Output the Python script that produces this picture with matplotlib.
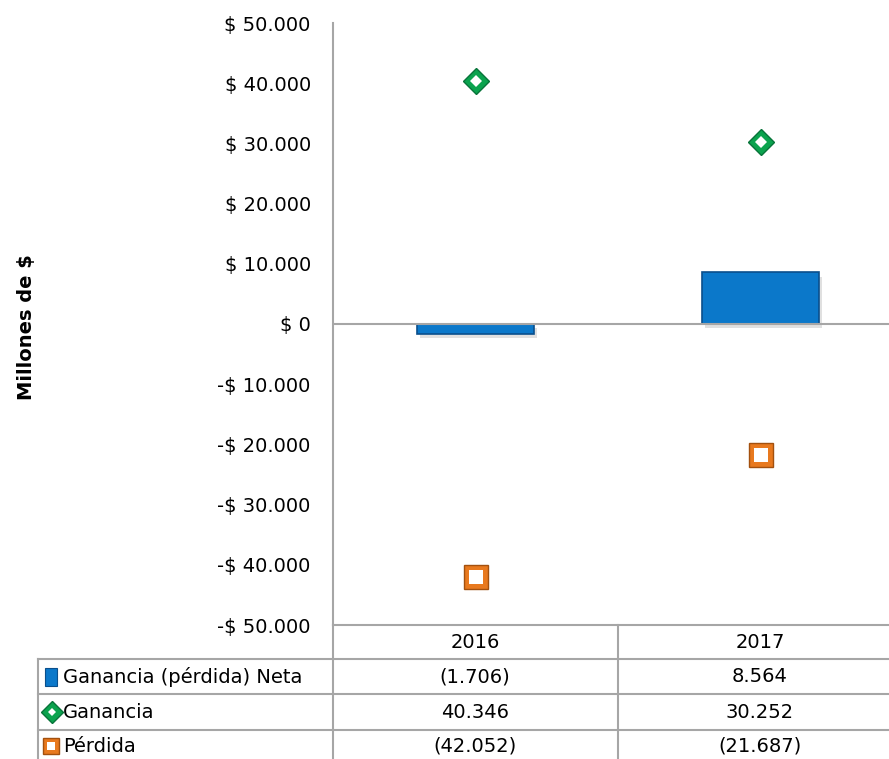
import numpy as np
import matplotlib.pyplot as plt
from matplotlib.lines import Line2D
from matplotlib.patches import Rectangle

plt.rcParams['font.family'] = ['DejaVu Sans']

# datos (millones de $)
years = ['2016', '2017']
neta = [-1706, 8564]
ganancia = [40346, 30252]
perdida = [-42052, -21687]
row_labels = ['Ganancia (pérdida) Neta', 'Ganancia', 'Pérdida']
y_ticks = [-50000, -40000, -30000, -20000, -10000, 0, 10000, 20000, 30000, 40000, 50000]

W, H = 889, 759
fig = plt.figure(figsize=(W / 100, H / 100), dpi=100)
FS = 14


def fx(x):
    return x / W


def fy(y):
    return 1 - y / H


# el area del grafico se sale un poco por la derecha (como en el original)
ax = fig.add_axes([fx(333), fy(625), fx(903) - fx(333), fy(23) - fy(625)])

x = np.arange(len(years))
blue = '#0B78CA'
green = '#0BA34E'
orange = '#E8791E'
gray = '#A6A6A6'

# sombra de las barras
ax.bar(x + 0.012, neta, width=0.41, color='#000000', alpha=0.12, zorder=1,
       bottom=[-700, -700])
ax.bar(x, neta, width=0.41, color=blue, edgecolor='#0A4F8C', linewidth=1.2, zorder=2)

ax.axhline(0, color=gray, lw=1.5, zorder=3)

ax.plot(x, ganancia, linestyle='none', marker='D', markersize=13.5, color=green,
        markeredgecolor='#08743A', markeredgewidth=1, zorder=4)
ax.plot(x, ganancia, linestyle='none', marker='D', markersize=6.5, color='white',
        markeredgewidth=0, zorder=5)
ax.plot(x, perdida, linestyle='none', marker='s', markersize=17, color=orange,
        markeredgecolor='#A3500E', markeredgewidth=1, zorder=4)
ax.plot(x, perdida, linestyle='none', marker='s', markersize=9.5, color='white',
        markeredgewidth=0, zorder=5)

ax.set_xlim(-0.5, len(years) - 0.5)
ax.set_ylim(-50000, 50000)
ax.set_yticks(y_ticks)
ax.set_yticklabels([('-$ ' if v < 0 else '$ ') + format(abs(v), ',').replace(',', '.')
                    for v in y_ticks])
ax.tick_params(axis='y', length=0, pad=16, labelsize=FS)
ax.set_xticks([])
for s in ['top', 'right', 'bottom']:
    ax.spines[s].set_visible(False)
ax.spines['left'].set_color(gray)
ax.spines['left'].set_linewidth(1.5)

fig.text(fx(27), fy(327), 'Millones de $', rotation=90, ha='center', va='center',
         fontsize=FS, fontweight='bold')

# tabla de datos
def hline(x0, x1, y):
    fig.add_artist(Line2D([fx(x0), fx(x1)], [fy(y), fy(y)], color=gray, lw=1.5,
                          transform=fig.transFigure))


def vline(x0, y0, y1):
    fig.add_artist(Line2D([fx(x0), fx(x0)], [fy(y0), fy(y1)], color=gray, lw=1.5,
                          transform=fig.transFigure))


hline(333, 889, 625)
for yy in [659, 694, 730]:
    hline(38, 889, yy)
vline(333, 625, 759)
vline(618, 625, 759)
vline(38, 659, 759)

col_x = [475, 760]
for i, yr in enumerate(years):
    fig.text(fx(col_x[i]), fy(642), yr, ha='center', va='center', fontsize=FS)


def fmt(v):
    s = format(abs(v), ',').replace(',', '.')
    return '(' + s + ')' if v < 0 else s


row_y = [677, 712, 746]
for r, vals in enumerate([neta, ganancia, perdida]):
    fig.text(fx(63), fy(row_y[r]), row_labels[r], ha='left', va='center', fontsize=FS)
    for i, v in enumerate(vals):
        fig.text(fx(col_x[i]), fy(row_y[r]), fmt(v), ha='center', va='center', fontsize=FS)

# iconos de la leyenda
fig.add_artist(Rectangle((fx(45), fy(686)), fx(12), fy(668) - fy(686), facecolor=blue,
                         edgecolor='#0A4F8C', lw=0.8, transform=fig.transFigure))
fig.add_artist(Line2D([fx(52)], [fy(712)], marker='D', markersize=11, color=green,
                      markeredgecolor='#08743A', transform=fig.transFigure))
fig.add_artist(Line2D([fx(52)], [fy(712)], marker='D', markersize=4, color='white',
                      markeredgewidth=0, transform=fig.transFigure))
fig.add_artist(Line2D([fx(51)], [fy(746)], marker='s', markersize=12, color=orange,
                      markeredgecolor='#A3500E', transform=fig.transFigure))
fig.add_artist(Line2D([fx(51)], [fy(746)], marker='s', markersize=6, color='white',
                      markeredgewidth=0, transform=fig.transFigure))

fig.savefig('out.png', dpi=100)
